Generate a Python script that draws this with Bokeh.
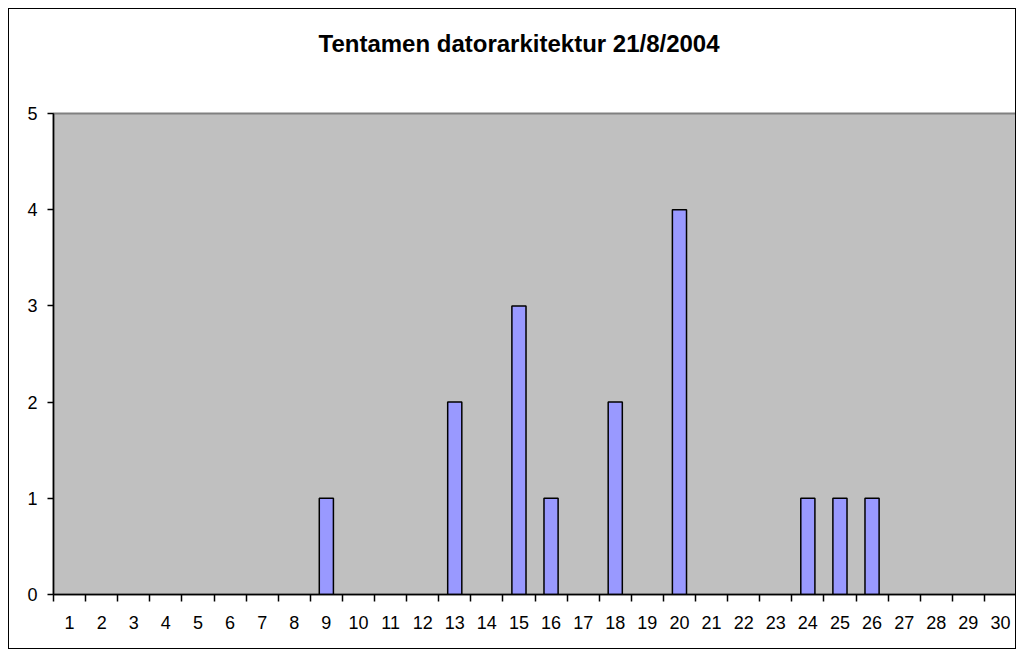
from bokeh.plotting import figure
from bokeh.models import FixedTicker, Range1d, Title
from bokeh.embed import file_html
from bokeh.resources import INLINE

# ---- data ----
categories = list(range(1, 31))
counts = [0, 0, 0, 0, 0, 0, 0, 0, 1, 0,
          0, 0, 2, 0, 3, 1, 0, 2, 0, 4,
          0, 0, 0, 1, 1, 1, 0, 0, 0, 0]
y_ticks = [0, 1, 2, 3, 4, 5]
title_text = "Tentamen datorarkitektur 21/8/2004"

xs = [c for c, v in zip(categories, counts) if v > 0]
tops = [v for v in counts if v > 0]

FONT = "Liberation Sans"

p = figure(width=1008, height=641, output_backend="svg", toolbar_location=None,
           x_range=Range1d(0.5, 30.5), y_range=Range1d(0, 5),
           min_border_left=44, min_border_right=1, min_border_top=104,
           min_border_bottom=56, title=title_text,
           styles={"border": "1px solid black", "margin": "8px 0 0 8px"})

p.title.align = "left"
p.title.vertical_align = "top"
p.title.offset = 265
p.title.standoff = 0
p.title.text_font = FONT
p.title.text_font_size = "24px"
p.title.text_font_style = "bold"
p.title.text_color = "black"

# empty spacer between title and plot area
p.add_layout(Title(text=" ", text_font_size="1px", standoff=52), "above")

p.background_fill_color = "#C0C0C0"
p.border_fill_color = "white"
p.outline_line_color = "#808080"
p.outline_line_width = 2
p.xgrid.grid_line_color = None
p.ygrid.grid_line_color = None

p.vbar(x=xs, top=tops, bottom=0, width=0.44,
       fill_color="#9999FF", line_color="black", line_width=1.5)

minor = [categories[0] - 0.5] + [c + 0.5 for c in categories]
xa = p.xaxis[0]
xa.ticker = FixedTicker(ticks=categories, minor_ticks=minor)
xa.axis_line_color = "black"
xa.axis_line_width = 1.5
xa.major_tick_out = 0
xa.major_tick_in = 0
xa.minor_tick_out = 7
xa.minor_tick_in = 0
xa.minor_tick_line_color = "black"
xa.minor_tick_line_width = 1.5
xa.major_label_text_font = FONT
xa.major_label_text_font_size = "18px"
xa.major_label_text_color = "black"
xa.major_label_standoff = 14

ya = p.yaxis[0]
ya.ticker = FixedTicker(ticks=y_ticks)
ya.axis_line_color = "black"
ya.axis_line_width = 1.5
ya.major_tick_out = 6
ya.major_tick_in = 0
ya.major_tick_line_color = "black"
ya.major_tick_line_width = 1.5
ya.minor_tick_line_color = None
ya.major_label_text_font = FONT
ya.major_label_text_font_size = "18px"
ya.major_label_text_color = "black"
ya.major_label_standoff = 10

open("out.html", "w").write(file_html(p, INLINE))
